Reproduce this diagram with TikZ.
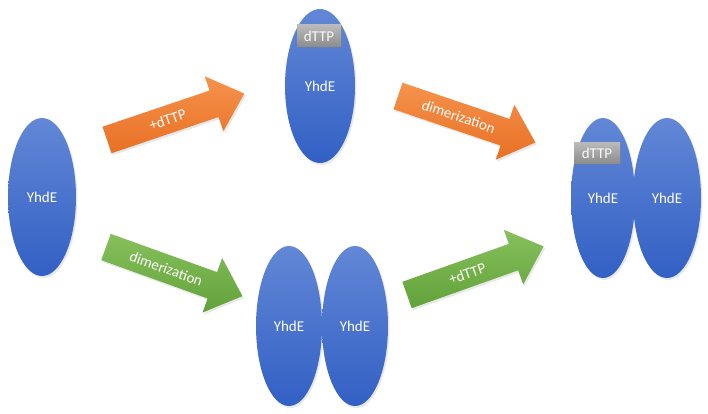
\documentclass[tikz,border=0pt]{standalone}
\usepackage{fontspec}
\setmainfont{Carlito}
\usetikzlibrary{shapes.geometric,shadows}
\definecolor{bluetop}{RGB}{98,135,214}
\definecolor{bluebot}{RGB}{50,96,196}
\definecolor{orangetop}{RGB}{246,146,76}
\definecolor{orangebot}{RGB}{232,112,36}
\definecolor{greentop}{RGB}{134,192,92}
\definecolor{greenbot}{RGB}{98,162,58}
\definecolor{graytop}{RGB}{186,186,186}
\definecolor{graybot}{RGB}{140,140,140}
\tikzset{
  prot/.style={ellipse, inner sep=0pt, top color=bluetop, bottom color=bluebot,
    text=white, font=\fontsize{15}{18}\selectfont,
    drop shadow={opacity=0.18, shadow xshift=1.5pt, shadow yshift=-2pt}},
  ligand/.style={rectangle, inner sep=0pt, minimum width=44pt, minimum height=22pt,
    top color=graytop, bottom color=graybot, text=white!95!gray,
    font=\fontsize{15}{18}\selectfont,
    drop shadow={opacity=0.25, shadow xshift=1.5pt, shadow yshift=-1.5pt}},
  arrowlabel/.style={text=white, font=\fontsize{15}{18}\selectfont, inner sep=0pt},
  orangefill/.style={top color=orangetop, bottom color=orangebot,
    drop shadow={opacity=0.18, shadow xshift=1.5pt, shadow yshift=-2pt}},
  greenfill/.style={top color=greentop, bottom color=greenbot,
    drop shadow={opacity=0.18, shadow xshift=1.5pt, shadow yshift=-2pt}},
}
% name, tail x, tail y, angle, fill style, label
\newcommand{\blockarrow}[6]{%
  \begin{scope}[shift={(#2,#3)}, rotate=#4]
    \path[#5] (0,-14) -- (113,-14) -- (113,-29) -- (145,0) -- (113,29)
      -- (113,14) -- (0,14) -- cycle;
    \node[arrowlabel, transform shape] (#1) at (64,0) {#6};
  \end{scope}}
\begin{document}
\begin{tikzpicture}[x=1pt, y=-1pt]
\useasboundingbox (0,0) rectangle (708,414);
% monomer
\node[prot, minimum width=68pt, minimum height=158pt] (m) at (42,197) {YhdE};
% monomer with dTTP
\node[prot, minimum width=70pt, minimum height=154pt] (md) at (320,86) {YhdE};
\node[ligand] (ld) at (319,36) {dTTP};
% dimer without ligand
\node[prot, minimum width=66pt, minimum height=160pt] (dl) at (289,326) {YhdE};
\node[prot, minimum width=66pt, minimum height=160pt] (dr) at (355,326) {YhdE};
% dimer with dTTP
\node[prot, minimum width=64pt, minimum height=160pt] (ddl) at (603,198) {YhdE};
\node[prot, minimum width=68pt, minimum height=160pt] (ddr) at (667,198) {YhdE};
\node[ligand, minimum width=46pt, minimum height=21pt] (ldd) at (597,153) {dTTP};
% block arrows
\blockarrow{a1}{107}{140}{18.7}{orangefill}{+dTTP}
\blockarrow{a2}{398}{96}{-18.7}{orangefill}{dimerization}
\blockarrow{a3}{106}{247}{-19.8}{greenfill}{dimerization}
\blockarrow{a4}{407}{295}{19.6}{greenfill}{+dTTP}
\end{tikzpicture}
\end{document}
